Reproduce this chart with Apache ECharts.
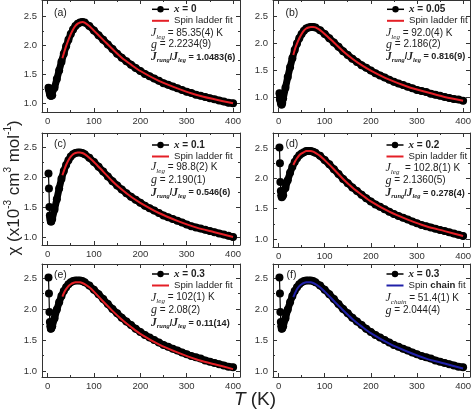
<!DOCTYPE html>
<html><head><meta charset="utf-8">
<script src="https://cdn.jsdelivr.net/npm/echarts@6/dist/echarts.min.js"></script>
<style>html,body{margin:0;padding:0;background:#fff}#c{width:474px;height:412px}</style>
</head><body><div id="c"></div>
<script>
// ---------- data ----------
const xTicks = [0, 100, 200, 300, 400];
const xMinorTicks = [50, 150, 250, 350];
const yTicks = [1.0, 1.5, 2.0, 2.5];
const yMinorTicks = [1.25, 1.75, 2.25];

const T_low = [2, 3, 4, 5, 6, 7, 8];
const T_main = [10,15,20,25,30,35,40,45,50,55,60,65,70,75,80,90,100,110,120,130,140,150,160,170,180,190,200,210,220,230,240,250,260,270,280,290,300,310,320,330,340,350,360,370,380,390,400];
const T_fit = [32,36,40,45,50,55,60,65,70,75,80,90,100,120,140,160,180,200,240,280,320,360,400];

const chi_a_low = [1.27,1.25,1.21,1.17,1.14,1.13,1.13];
const chi_a = [1.14,1.27,1.42,1.57,1.72,1.86,1.99,2.10,2.20,2.28,2.34,2.38,2.40,2.41,2.40,2.34,2.26,2.18,2.10,2.02,1.94,1.86,1.79,1.73,1.67,1.61,1.56,1.51,1.47,1.43,1.39,1.35,1.32,1.29,1.26,1.23,1.20,1.18,1.15,1.13,1.11,1.09,1.07,1.05,1.03,1.01,1.00];
const fit_a = [1.78,1.89,1.99,2.10,2.20,2.28,2.34,2.38,2.40,2.41,2.40,2.34,2.26,2.10,1.94,1.79,1.67,1.56,1.39,1.26,1.15,1.07,1.00];

const chi_b_low = [1.08,0.96,1.04,0.90,0.87,0.87,0.90];
const chi_b = [0.98,1.18,1.38,1.56,1.73,1.88,2.00,2.10,2.18,2.24,2.28,2.30,2.31,2.31,2.30,2.25,2.18,2.10,2.02,1.94,1.86,1.79,1.72,1.66,1.60,1.55,1.50,1.45,1.41,1.37,1.33,1.29,1.26,1.23,1.20,1.17,1.14,1.12,1.10,1.07,1.05,1.03,1.01,0.99,0.97,0.96,0.94];
const fit_b = [1.79,1.91,2.00,2.10,2.18,2.24,2.28,2.30,2.31,2.31,2.30,2.25,2.18,2.02,1.86,1.72,1.60,1.50,1.33,1.20,1.10,1.01,0.94];

const chi_c_low = [2.06,1.81,1.50,1.36,1.30,1.26,1.26];
const chi_c = [1.30,1.46,1.63,1.81,1.97,2.10,2.20,2.28,2.34,2.38,2.40,2.41,2.41,2.40,2.38,2.32,2.25,2.17,2.09,2.01,1.93,1.86,1.79,1.73,1.67,1.62,1.57,1.52,1.48,1.44,1.40,1.36,1.33,1.30,1.27,1.24,1.21,1.18,1.16,1.14,1.12,1.10,1.08,1.06,1.04,1.02,1.00];
const fit_c = [2.03,2.12,2.20,2.28,2.34,2.38,2.40,2.41,2.41,2.40,2.38,2.32,2.25,2.09,1.93,1.79,1.67,1.57,1.40,1.27,1.16,1.08,1.00];

const chi_d_low = [2.51,2.25,1.94,1.79,1.72,1.69,1.70];
const chi_d = [1.72,1.84,1.97,2.09,2.19,2.27,2.33,2.38,2.41,2.43,2.45,2.45,2.45,2.44,2.42,2.37,2.30,2.23,2.15,2.07,1.99,1.92,1.85,1.79,1.73,1.67,1.62,1.57,1.53,1.49,1.45,1.41,1.38,1.35,1.32,1.29,1.26,1.23,1.21,1.19,1.17,1.15,1.13,1.11,1.09,1.07,1.05];
const fit_d = [2.22,2.28,2.33,2.38,2.41,2.43,2.45,2.45,2.45,2.44,2.42,2.37,2.30,2.15,1.99,1.85,1.73,1.62,1.45,1.32,1.21,1.13,1.05];

const chi_e_low = [2.51,2.25,1.95,1.79,1.72,1.68,1.69];
const chi_e = [1.72,1.85,1.99,2.11,2.21,2.29,2.35,2.40,2.43,2.45,2.46,2.46,2.46,2.45,2.43,2.38,2.31,2.24,2.16,2.08,2.00,1.93,1.86,1.80,1.74,1.68,1.63,1.58,1.54,1.50,1.46,1.42,1.39,1.36,1.33,1.30,1.27,1.24,1.22,1.20,1.17,1.15,1.13,1.11,1.09,1.07,1.06];
const fit_e = [2.20,2.27,2.32,2.37,2.40,2.42,2.43,2.43,2.43,2.42,2.40,2.35,2.28,2.12,1.97,1.83,1.71,1.60,1.43,1.30,1.19,1.11,1.03];
const fit_f = [2.19,2.26,2.32,2.37,2.40,2.42,2.43,2.43,2.43,2.42,2.40,2.35,2.28,2.13,1.98,1.84,1.72,1.61,1.44,1.31,1.20,1.12,1.04];

const dataNames = ['x = 0', 'x = 0.05', 'x = 0.1', 'x = 0.2', 'x = 0.3', 'x = 0.3'];
const fitNames = ['Spin ladder fit','Spin ladder fit','Spin ladder fit','Spin ladder fit','Spin ladder fit','Spin chain fit'];
const panelLabels = ['(a)','(b)','(c)','(d)','(e)','(f)'];
const paramTexts = [
  ['{ji|J}{sub|leg}{n| = 85.35(4) K}', '{gi|g}{n| = 2.2234(9)}', '{jb|J}{subb|rung}{b|/}{jb|J}{subb|leg}{b| = 1.0483(6)}'],
  ['{ji|J}{sub|leg}{n| = 92.0(4) K}', '{gi|g}{n| = 2.186(2)}', '{jb|J}{subb|rung}{b|/}{jb|J}{subb|leg}{b| = 0.816(9)}'],
  ['{ji|J}{sub|leg}{n| = 98.8(2) K}', '{gi|g}{n| = 2.190(1)}', '{jb|J}{subb|rung}{b|/}{jb|J}{subb|leg}{b| = 0.546(6)}'],
  ['{ji|J}{sub|leg}{n|  = 102.8(1) K}', '{gi|g}{n| = 2.1360(5)}', '{jb|J}{subb|rung}{b|/}{jb|J}{subb|leg}{b| = 0.278(4)}'],
  ['{ji|J}{sub|leg}{n| = 102(1) K}', '{gi|g}{n| = 2.08(2)}', '{jb|J}{subb|rung}{b|/}{jb|J}{subb|leg}{b| = 0.11(14)}'],
  ['{ji|J}{sub|chain}{n| = 51.4(1) K}', '{gi|g}{n| = 2.044(4)}']
];

// ---------- layout ----------
const layout = [
  {left:42, top:-2, width:198, height:114, ymin:0.85, ymax:2.79, lx:151, ly:9.3, py:[33.3,44.5,57], tx:54, ty:12.7, band:0},
  {left:273, top:-2, width:200, height:114, ymin:0.73, ymax:2.81, lx:386, ly:9.3, py:[33.3,44.5,56.7], tx:285.5, ty:12.7, band:0},
  {left:42, top:133, width:198, height:112, ymin:0.867, ymax:2.733, lx:151, ly:145, py:[167.3,180,192.7], tx:54, ty:144, band:3},
  {left:273, top:133, width:200, height:114, ymin:0.868, ymax:2.747, lx:385.5, ly:145, py:[168.3,180.7,193.3], tx:285.5, ty:144, band:4},
  {left:42, top:264, width:198, height:113, ymin:0.903, ymax:2.726, lx:151, ly:274, py:[297.7,310,323.3], tx:54, ty:275, band:4},
  {left:273, top:264, width:200, height:113, ymin:0.903, ymax:2.726, lx:385.5, ly:274, py:[298.3,310.7], tx:286.5, ty:275, band:4}
];

const pts = (t, v) => t.map((x, i) => [x, v[i]]);
const dataSets = [
  pts(T_low.concat(T_main), chi_a_low.concat(chi_a)),
  pts(T_low.concat(T_main), chi_b_low.concat(chi_b)),
  pts(T_low.concat(T_main), chi_c_low.concat(chi_c)),
  pts(T_low.concat(T_main), chi_d_low.concat(chi_d)),
  pts(T_low.concat(T_main), chi_e_low.concat(chi_e)),
  pts(T_low.concat(T_main), chi_e_low.concat(chi_e))
];
const fitSets = [fit_a, fit_b, fit_c, fit_d, fit_e, fit_f].map(f => pts(T_fit, f));
const fitColors = ['#e41f26','#e41f26','#e41f26','#e41f26','#e41f26','#2020a8'];

const AX = '#333';
const FONT = 'Liberation Sans, Arial, sans-serif';
const SERIF = 'Liberation Serif, Times New Roman, serif';

const grids = [], xAxes = [], yAxes = [], series = [], legends = [], graphics = [];

layout.forEach((L, i) => {
  grids.push({left:L.left, top:L.top, width:L.width, height:L.height, show:false, containLabel:false});
  const xBase = {gridIndex:i, type:'value', min:-12, max:415, splitLine:{show:false}};
  const yBase = {gridIndex:i, type:'value', min:L.ymin, max:L.ymax, splitLine:{show:false}};
  xAxes.push(Object.assign({}, xBase, {position:'bottom',
    axisLine:{show:true, onZero:false, lineStyle:{color:AX, width:1}},
    axisTick:{show:true, inside:true, length:4, customValues:xTicks, lineStyle:{color:AX}},
    axisLabel:{show:true, customValues:xTicks, fontSize:9.5, color:'#333', fontFamily:FONT, margin:4}}));
  xAxes.push(Object.assign({}, xBase, {position:'bottom',
    axisLine:{show:false, onZero:false}, axisLabel:{show:false},
    axisTick:{show:true, inside:true, length:2, customValues:xMinorTicks, lineStyle:{color:AX}}}));
  xAxes.push(Object.assign({}, xBase, {position:'top',
    axisLine:{show:true, onZero:false, lineStyle:{color:AX, width:1}}, axisLabel:{show:false},
    axisTick:{show:true, inside:true, length:4, customValues:xTicks, lineStyle:{color:AX}}}));
  xAxes.push(Object.assign({}, xBase, {position:'top',
    axisLine:{show:false, onZero:false}, axisLabel:{show:false},
    axisTick:{show:true, inside:true, length:2, customValues:xMinorTicks, lineStyle:{color:AX}}}));

  yAxes.push(Object.assign({}, yBase, {position:'left',
    axisLine:{show:true, onZero:false, lineStyle:{color:AX, width:1}},
    axisTick:{show:true, inside:true, length:4, customValues:yTicks, lineStyle:{color:AX}},
    axisLabel:{show:true, customValues:yTicks, fontSize:9.5, color:'#333', fontFamily:FONT, margin:5,
      formatter: v => Number(v).toFixed(1)}}));
  yAxes.push(Object.assign({}, yBase, {position:'left',
    axisLine:{show:false, onZero:false}, axisLabel:{show:false},
    axisTick:{show:true, inside:true, length:2, customValues:yMinorTicks, lineStyle:{color:AX}}}));
  yAxes.push(Object.assign({}, yBase, {position:'right',
    axisLine:{show:true, onZero:false, lineStyle:{color:AX, width:1}}, axisLabel:{show:false},
    axisTick:{show:true, inside:true, length:4, customValues:yTicks, lineStyle:{color:AX}}}));
  yAxes.push(Object.assign({}, yBase, {position:'right',
    axisLine:{show:false, onZero:false}, axisLabel:{show:false},
    axisTick:{show:true, inside:true, length:2, customValues:yMinorTicks, lineStyle:{color:AX}}}));

  // measured points (discrete dots joined by a thin line)
  series.push({type:'line', name:dataNames[i], xAxisIndex:4*i, yAxisIndex:4*i, data:dataSets[i],
    symbol:'circle', symbolSize:8, showSymbol:true, showAllSymbol:true,
    itemStyle:{color:'#000'}, lineStyle:{color:'#000', width:1.2}, z:2, animation:false});
  // dense part of the same measured points, drawn as the overlapping-dot band
  series.push({type:'line', name:dataNames[i], xAxisIndex:4*i, yAxisIndex:4*i, data:dataSets[i].slice(L.band),
    symbol:'none', lineStyle:{color:'#000', width:7, cap:'round', join:'round'}, itemStyle:{color:'#000'}, z:2, animation:false});
  series.push({type:'line', name:fitNames[i], xAxisIndex:4*i, yAxisIndex:4*i, data:fitSets[i],
    symbol:'none', smooth:0.3, itemStyle:{color:fitColors[i]}, lineStyle:{color:fitColors[i], width:2}, z:3, animation:false});

  legends.push({show:true, orient:'vertical', left:L.lx, top:L.ly - 5.75, itemWidth:17, itemHeight:8, itemGap:0,
    padding:0, selectedMode:false,
    data:[{name:dataNames[i], lineStyle:{width:1.5}},
          {name:fitNames[i], itemStyle:{opacity:0}, lineStyle:{width:2}}],
    textStyle:{fontSize:9.6, color:'#222', fontFamily:FONT, lineHeight:11.5,
      rich:{xi:{fontFamily:SERIF, fontStyle:'italic', fontWeight:'bold', fontSize:11, color:'#222'},
            xb:{fontFamily:FONT, fontWeight:'bold', fontSize:10, color:'#222'},
            b:{fontFamily:FONT, fontWeight:'bold', fontSize:9.6, color:'#222'},
            n:{fontFamily:FONT, fontSize:9.6, color:'#222'}}},
    formatter: name => {
      if (name.indexOf('x = ') === 0) return '{xi|x}{xb| = ' + name.slice(4) + '}';
      if (name === 'Spin chain fit') return '{n|Spin }{b|chain}{n| fit}';
      return name;
    }});

  graphics.push({type:'text', x:L.tx, y:L.ty, style:{text:panelLabels[i], font:'10.5px ' + FONT, fill:'#222', verticalAlign:'middle'}});
  paramTexts[i].forEach((t, k) => {
    graphics.push({type:'text', x:L.lx, y:L.py[k], style:{text:t, verticalAlign:'middle', fill:'#222',
      rich:{
        ji:{fontFamily:SERIF, fontStyle:'italic', fontSize:12, fill:'#222', lineHeight:14},
        gi:{fontFamily:SERIF, fontStyle:'italic', fontSize:12, fill:'#222', lineHeight:14},
        jb:{fontFamily:SERIF, fontStyle:'italic', fontWeight:'bold', fontSize:11.5, fill:'#222', lineHeight:14},
        sub:{fontFamily:SERIF, fontStyle:'italic', fontSize:7, fill:'#222', lineHeight:7, verticalAlign:'bottom'},
        subb:{fontFamily:SERIF, fontStyle:'italic', fontWeight:'bold', fontSize:6.5, fill:'#222', lineHeight:7, verticalAlign:'bottom'},
        n:{fontFamily:FONT, fontSize:10, fill:'#222', lineHeight:14},
        b:{fontFamily:FONT, fontWeight:'bold', fontSize:9.1, fill:'#222', lineHeight:14}
      }}});
  });
});

// axis titles
graphics.push({type:'text', x:14, y:188, rotation:Math.PI/2, style:{
  text:'{n|χ (x10}{sup|-3}{n| cm}{sup|3}{n| mol}{sup|-1}{n|)}', align:'center', verticalAlign:'middle',
  rich:{n:{fontFamily:FONT, fontSize:17, fill:'#222', lineHeight:22},
        sup:{fontFamily:FONT, fontSize:10, fill:'#222', lineHeight:10, verticalAlign:'top'}}}});
graphics.push({type:'text', x:255, y:400, style:{
  text:'{t|T}{n| (K)}', align:'center', verticalAlign:'middle',
  rich:{t:{fontFamily:FONT, fontStyle:'italic', fontSize:19, fill:'#222'},
        n:{fontFamily:FONT, fontSize:19, fill:'#222'}}}});

const chart = echarts.init(document.getElementById('c'), null, {renderer:'canvas'});
chart.setOption({
  animation:false,
  backgroundColor:'#fff',
  grid:grids, xAxis:xAxes, yAxis:yAxes, series:series, legend:legends, graphic:graphics
});
</script>
</body></html>
